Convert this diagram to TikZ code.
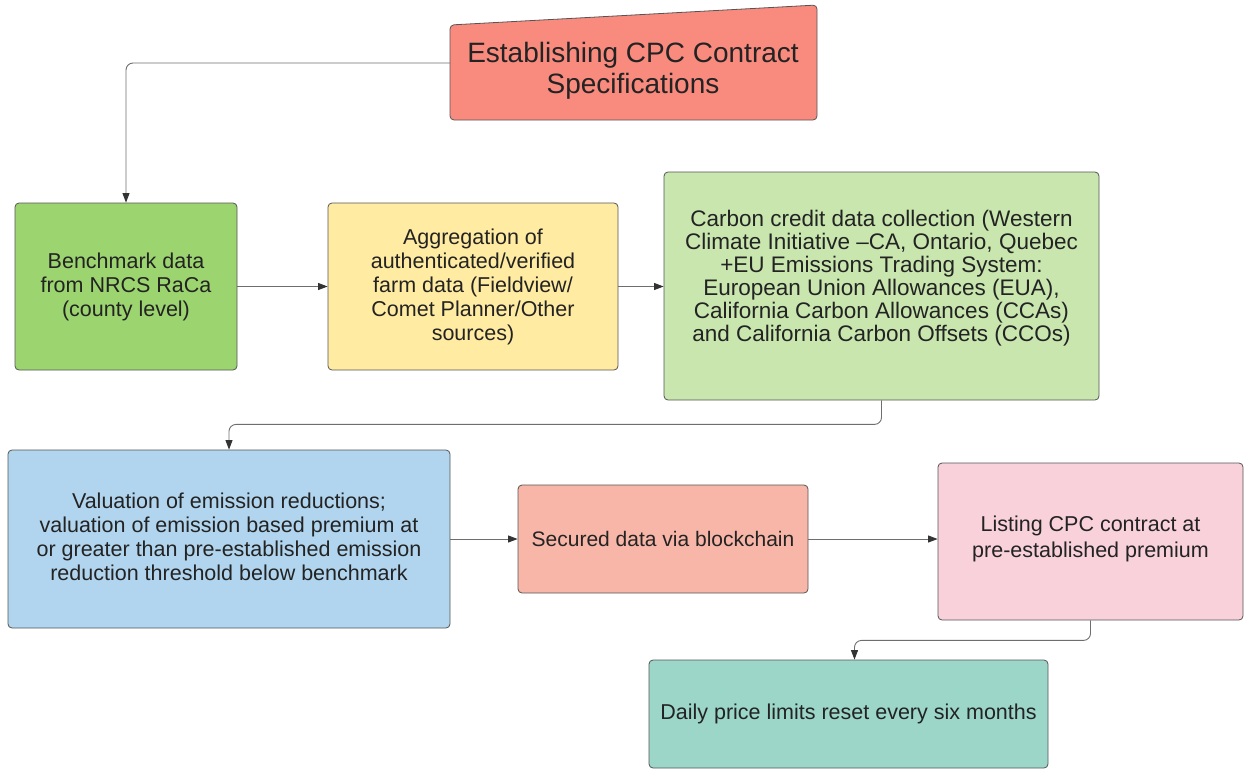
\documentclass[tikz,border=0pt]{standalone}
\usepackage{fontspec}
\setmainfont{Liberation Sans}
\usetikzlibrary{arrows.meta}
\definecolor{ctop}{RGB}{249,139,126}
\definecolor{cgreen}{RGB}{156,212,112}
\definecolor{cyellow}{RGB}{255,236,162}
\definecolor{ccarbon}{RGB}{200,230,174}
\definecolor{cblue}{RGB}{177,213,238}
\definecolor{csecured}{RGB}{248,182,168}
\definecolor{clisting}{RGB}{248,209,219}
\definecolor{cteal}{RGB}{155,214,201}
\definecolor{cborder}{RGB}{85,85,85}
\definecolor{cline}{RGB}{110,110,110}
\definecolor{ctext}{RGB}{35,35,35}
\tikzset{
  box/.style={draw=cborder, line width=0.8pt, rounded corners=4pt, align=center,
    text=ctext, inner sep=0pt, font=\fontsize{21.5}{24}\selectfont},
  conn/.style={draw=cline, line width=0.9pt, rounded corners=7pt,
    arrows={-{Triangle[length=9.5pt,width=7pt,color=black!80]}}},
}
\begin{document}
\begin{tikzpicture}[x=1pt,y=-1pt]
\useasboundingbox (0,0) rectangle (1244,768);
% top box (slanted top)
\draw[draw=cborder, fill=ctop, line width=0.8pt, rounded corners=4pt]
  (450,25) -- (817,5) -- (817,120) -- (450,120) -- cycle;
\node[align=center, text=ctext, font=\fontsize{28}{31}\selectfont] (top) at (633,71)
  {Establishing CPC Contract\\Specifications};
\coordinate (topL) at (450,63);
% row 1
\node[box, fill=cgreen, minimum width=222pt, minimum height=167pt] (green) at (126,286.5)
  {Benchmark data\\from NRCS RaCa\\(county level)};
\node[box, fill=cyellow, minimum width=290pt, minimum height=167pt] (yellow) at (473,286.5)
  {Aggregation of\\authenticated/verified\\farm data (Fieldview/\\Comet Planner/Other\\sources)};
\node[box, fill=ccarbon, minimum width=435pt, minimum height=228pt] (carbon) at (881.5,286) {};
\node[align=center, text=ctext, font=\fontsize{22.5}{23}\selectfont] (carbontext) at (881.5,278)
  {Carbon credit data collection (Western\\Climate Initiative --CA, Ontario, Quebec\\+EU Emissions Trading System:\\European Union Allowances (EUA),\\California Carbon Allowances (CCAs)\\and California Carbon Offsets (CCOs)};
% row 2
\node[box, fill=cblue, minimum width=442pt, minimum height=178pt] (val) at (229,539) {};
\node[align=center, text=ctext, font=\fontsize{21.5}{24}\selectfont] (valtext) at (229,537)
  {Valuation of emission reductions;\\valuation of emission based premium at\\or greater than pre-established emission\\reduction threshold below benchmark};
\node[box, fill=csecured, minimum width=290pt, minimum height=108pt] (secured) at (663,539)
  {\fontsize{21}{24}\selectfont Secured data via blockchain};
\node[box, fill=clisting, minimum width=305pt, minimum height=157pt] (listing) at (1090.5,541.5) {};
\node[align=center, text=ctext, font=\fontsize{21.5}{26}\selectfont] (listingtext) at (1090.5,539)
  {Listing CPC contract at\\pre-established premium};
\node[box, fill=cteal, minimum width=399pt, minimum height=108pt] (teal) at (848.5,714)
  {Daily price limits reset every six months};
% connectors
\draw[conn] (topL) -| (green.north);
\draw[conn] (green.east) -- (yellow.west);
\draw[conn] (yellow.east) -- (yellow.east -| carbon.west);
\draw[conn] (carbon.south) -- ++(0,24) -| (val.north);
\draw[conn] (val.east) -- (val.east -| secured.west);
\draw[conn] (secured.east) -- (secured.east -| listing.west);
\draw[conn] (listing.south) -- ++(0,20) -| ([xshift=6pt]teal.north);
\end{tikzpicture}
\end{document}
